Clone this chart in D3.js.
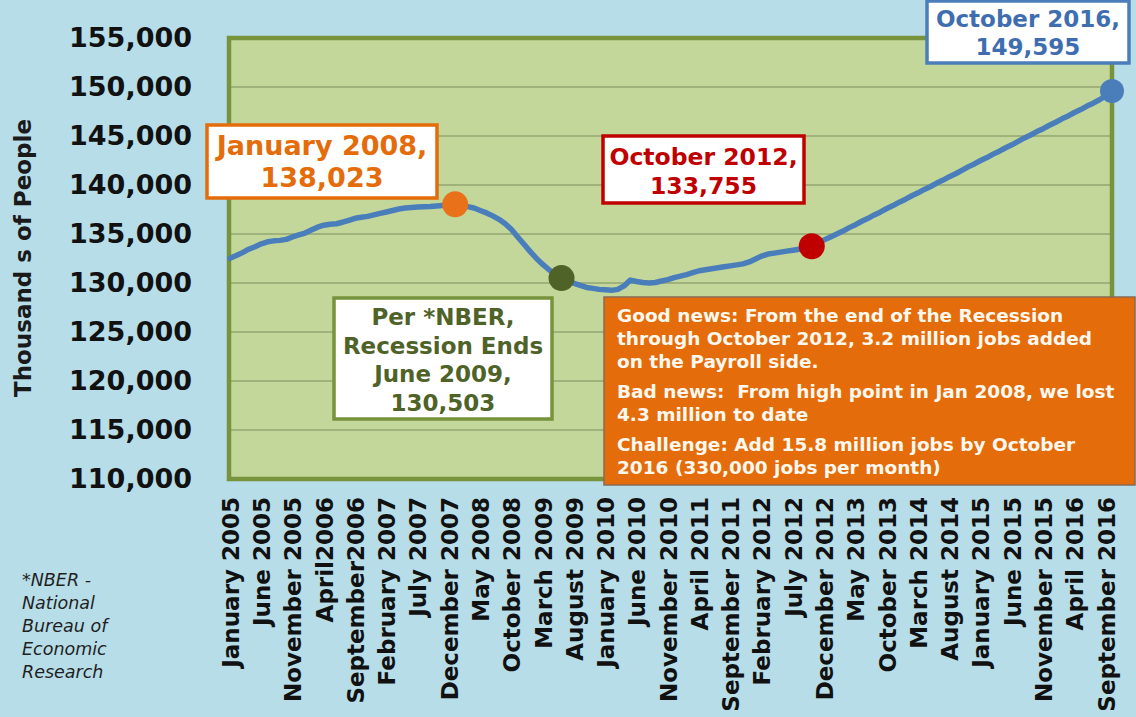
<!DOCTYPE html>
<html>
<head>
<meta charset="utf-8">
<script src="https://cdn.jsdelivr.net/npm/d3@7"></script>
<style>
  body { margin: 0; background: #b7dde8; }
  svg { display: block; font-family: "DejaVu Sans", Verdana, sans-serif; }
</style>
</head>
<body>
<svg id="chart" width="1136" height="717"></svg>
<script>
// Nonfarm payroll, thousands of people, January 2005 .. October 2016
const payroll = [
  132520, 132800, 133100, 133450, 133700, 134000, 134200, 134300, 134350, 134450, 134700, 134900,
  135100, 135400, 135700, 135900, 136000, 136050, 136200, 136400, 136600, 136700, 136800, 136950,
  137100, 137250, 137400, 137550, 137650, 137700, 137750, 137780, 137800, 137850, 137900, 137950,
  138023, 137900, 137800, 137650, 137400, 137150, 136850, 136500, 136050, 135450, 134700, 133950,
  133200, 132500, 131900, 131350, 130900, 130503, 130200, 129950, 129750, 129550, 129450, 129350,
  129300, 129250, 129350, 129700, 130300, 130150, 130050, 130000, 130050, 130200, 130350, 130550,
  130700, 130850, 131050, 131250, 131350, 131450, 131550, 131650, 131750, 131850, 131950, 132150,
  132450, 132750, 132950, 133050, 133150, 133250, 133350, 133450, 133550, 133755, 134080, 134400,
  134700, 135000, 135300, 135650, 135950, 136300, 136600, 136950, 137250, 137600, 137900, 138250,
  138550, 138900, 139200, 139550, 139850, 140200, 140500, 140850, 141150, 141500, 141850, 142150,
  142500, 142800, 143150, 143450, 143800, 144100, 144450, 144800, 145100, 145450, 145750, 146100,
  146400, 146750, 147050, 147400, 147700, 148050, 148350, 148700, 149100, 149595
];

// one category per month
const months = d3.timeMonth.range(new Date(2005, 0, 1), new Date(2016, 10, 1))
  .map(d3.timeFormat("%Y-%m"));

// every fifth month gets a label
const tickLabels = [
  "January 2005", "June 2005", "November 2005", "April2006", "September2006",
  "February 2007", "July 2007", "December 2007", "May 2008", "October 2008",
  "March 2009", "August 2009", "January 2010", "June 2010", "November 2010",
  "April 2011", "September 2011", "February 2012", "July 2012", "December 2012",
  "May 2013", "October 2013", "March 2014", "August 2014", "January 2015",
  "June 2015", "November 2015", "April 2016", "September 2016"
];

const yTicks = [110000, 115000, 120000, 125000, 130000, 135000, 140000, 145000, 150000, 155000];

// highlighted months and their callout texts
const calloutMonths = ["2008-01", "2009-06", "2012-10", "2016-10"];
const calloutTexts = [
  ["January 2008,", "138,023"],
  ["Per *NBER,", "Recession Ends", "June 2009,", "130,503"],
  ["October 2012,", "133,755"],
  ["October 2016,", "149,595"]
];

const newsLines = [
  ["Good news: From the end of the Recession",
   "through October 2012, 3.2 million jobs added",
   "on the Payroll side."],
  ["Bad news:  From high point in Jan 2008, we lost",
   "4.3 million to date"],
  ["Challenge: Add 15.8 million jobs by October",
   "2016 (330,000 jobs per month)"]
];

const footnote = ["*NBER -", "National", "Bureau of", "Economic", "Research"];

// ---- layout ----
const width = 1136, height = 717;
const plot = { left: 229, right: 1112, top: 38, bottom: 479 };

const svg = d3.select("#chart");

svg.append("rect")
  .attr("width", width).attr("height", height)
  .attr("fill", "#b7dde8");

const x = d3.scalePoint()
  .domain(months)
  .range([plot.left + 1, plot.right]);

const y = d3.scaleLinear()
  .domain([110000, 155000])
  .range([plot.bottom, plot.top]);

// plot area
svg.append("rect")
  .attr("x", plot.left).attr("y", plot.top)
  .attr("width", plot.right - plot.left)
  .attr("height", plot.bottom - plot.top)
  .attr("fill", "#c4d79b");

// grid lines
svg.append("g")
  .selectAll("line")
  .data(yTicks.slice(1, -1))
  .join("line")
    .attr("x1", plot.left).attr("x2", plot.right)
    .attr("y1", d => y(d)).attr("y2", d => y(d))
    .attr("stroke", "#7d8c5c")
    .attr("stroke-width", 1);

svg.append("rect")
  .attr("x", plot.left).attr("y", plot.top)
  .attr("width", plot.right - plot.left)
  .attr("height", plot.bottom - plot.top)
  .attr("fill", "none")
  .attr("stroke", "#77933c")
  .attr("stroke-width", 4.5);

// y axis
const yAxis = d3.axisLeft(y)
  .tickValues(yTicks)
  .tickFormat(d3.format(","))
  .tickSize(0)
  .tickPadding(37);

svg.append("g")
  .attr("transform", `translate(${plot.left}, 0)`)
  .call(yAxis)
  .call(g => g.select(".domain").remove())
  .selectAll("text")
    .attr("font-family", "DejaVu Sans")
    .attr("font-size", 27)
    .attr("font-weight", "bold")
    .attr("fill", "#111");

svg.append("text")
  .attr("transform", "translate(23, 258) rotate(-90)")
  .attr("text-anchor", "middle")
  .attr("dominant-baseline", "central")
  .attr("font-size", 23)
  .attr("font-weight", "bold")
  .attr("fill", "#1a1a1a")
  .text("Thousand s of People");

// x axis
const xAxis = d3.axisBottom(x)
  .tickValues(months.filter((d, i) => i % 5 === 0))
  .tickFormat((d, i) => tickLabels[i])
  .tickSize(0);

svg.append("g")
  .attr("transform", `translate(0, ${plot.bottom})`)
  .call(xAxis)
  .call(g => g.select(".domain").remove())
  .selectAll("text")
    .attr("transform", "rotate(-90)")
    .attr("text-anchor", "end")
    .attr("x", -18)
    .attr("y", 0)
    .attr("dy", "0.36em")
    .attr("font-family", "DejaVu Sans")
    .attr("font-size", 23)
    .attr("font-weight", "bold")
    .attr("fill", "#111");

// payroll line
const line = d3.line()
  .x((d, i) => x(months[i]))
  .y(d => y(d));

svg.append("path")
  .datum(payroll)
  .attr("d", line)
  .attr("fill", "none")
  .attr("stroke", "#4a7ebb")
  .attr("stroke-width", 5.5)
  .attr("stroke-linejoin", "round")
  .attr("stroke-linecap", "round");

// highlighted points
const dotColors = ["#e8711a", "#4f6228", "#c00000", "#4a7ebb"];
svg.append("g")
  .selectAll("circle")
  .data(calloutMonths)
  .join("circle")
    .attr("cx", d => x(d))
    .attr("cy", d => y(payroll[months.indexOf(d)]))
    .attr("r", (d, i) => i === 3 ? 12 : 13)
    .attr("fill", (d, i) => dotColors[i]);

// callout boxes
const boxes = [
  { x: 207, y: 125, w: 230, h: 73, size: 27, lead: 32, base: 155, stroke: "#e46c0a", color: "#e46c0a" },
  { x: 334, y: 298, w: 218, h: 121, size: 23, lead: 28.5, base: 325, stroke: "#77933c", color: "#4f6228" },
  { x: 603, y: 136, w: 201, h: 67, size: 23.5, lead: 29, base: 165, stroke: "#c00000", color: "#c00000" },
  { x: 927, y: 1, w: 202, h: 62, size: 23, lead: 28, base: 27, stroke: "#4a7ebb", color: "#3f6eb0" }
];

boxes.forEach((b, i) => {
  const g = svg.append("g");
  g.append("rect")
    .attr("x", b.x).attr("y", b.y)
    .attr("width", b.w).attr("height", b.h)
    .attr("fill", "#fff")
    .attr("stroke", b.stroke)
    .attr("stroke-width", 3.5);
  g.selectAll("text")
    .data(calloutTexts[i])
    .join("text")
      .attr("x", b.x + b.w / 2)
      .attr("y", (d, j) => b.base + j * b.lead)
      .attr("text-anchor", "middle")
      .attr("font-size", b.size)
      .attr("font-weight", "bold")
      .attr("fill", b.color)
      .text(d => d);
});

// news box
const news = svg.append("g");
news.append("rect")
  .attr("x", 604).attr("y", 297)
  .attr("width", 531).attr("height", 188)
  .attr("fill", "#e46c0a")
  .attr("stroke", "#8a6a55")
  .attr("stroke-width", 1.5);

let baseY = 322;
newsLines.forEach(par => {
  par.forEach(t => {
    news.append("text")
      .attr("x", 617)
      .attr("y", baseY)
      .attr("font-size", 18.5)
      .attr("font-weight", "bold")
      .attr("fill", "#fff8ef")
      .style("white-space", "pre")
      .text(t);
    baseY += 23;
  });
  baseY += 7;
});

// footnote
svg.append("g")
  .selectAll("text")
  .data(footnote)
  .join("text")
    .attr("x", 22)
    .attr("y", (d, i) => 586 + i * 23)
    .attr("font-size", 17.5)
    .attr("font-style", "italic")
    .attr("fill", "#1f1f1f")
    .text(d => d);
</script>
</body>
</html>
